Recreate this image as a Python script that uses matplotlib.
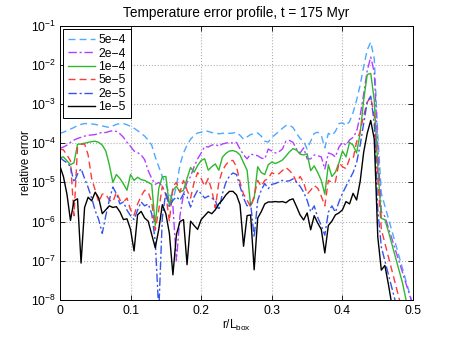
import numpy as np
import matplotlib
matplotlib.use("Agg")
import matplotlib.pyplot as plt
from matplotlib.ticker import NullLocator, FixedLocator

plt.rcParams['font.family'] = ['Liberation Sans', 'DejaVu Sans']
plt.rcParams['mathtext.default'] = 'regular'

# radial coordinate r/L_box (grid of 0.005)
r = [round(0.005 * i, 3) for i in range(101)]

# log10(relative error), per tolerance
err_5e4 = [-3.75, -3.72, -3.68, -3.64, -3.60, -3.55, -3.52, -3.50, -3.50, -3.51,
           -3.52, -3.54, -3.56, -3.58, -3.60, -3.56, -3.52, -3.50, -3.50, -3.53,
           -3.57, -3.62, -3.68, -3.75, -3.82, -3.92, -4.05, -4.35, -4.60, -4.85,
           -5.05, -5.30, -5.45, -5.10, -4.55, -4.25, -4.05, -3.90, -3.80, -3.74,
           -3.72, -3.68, -3.70, -3.73, -3.74, -3.76, -3.75, -3.74, -3.75, -3.74,
           -3.72, -3.80, -3.90, -3.84, -3.78, -3.76, -3.74, -3.82, -3.95, -3.97,
           -3.85, -3.78, -3.70, -3.62, -3.55, -3.54, -3.60, -3.75, -3.88, -3.95,
           -4.15, -3.95, -3.75, -3.72, -3.80, -4.12, -3.75, -3.80, -3.70, -3.50,
           -3.48, -3.55, -3.45, -3.22, -2.90, -2.52, -2.05, -1.62, -1.42, -1.85,
           -3.80, -5.28, -5.60, -5.92, -6.24, -6.56, -6.88, -7.20, -7.52, -7.84,
           -8.16]

err_2e4 = [-4.13, -4.10, -4.05, -3.98, -3.92, -3.88, -3.85, -3.82, -3.80, -3.79,
           -3.78, -3.75, -3.72, -3.73, -3.70, -3.68, -3.70, -3.76, -3.85, -3.98,
           -4.08, -4.20, -4.24, -4.30, -4.42, -4.70, -4.90, -5.05, -5.00, -5.10,
           -5.30, -5.45, -5.60, -7.00, -5.85, -5.30, -5.00, -4.85, -4.60, -4.40,
           -4.25, -4.08, -4.10, -4.05, -4.03, -4.08, -4.02, -4.00, -3.98, -4.00,
           -3.98, -4.15, -4.30, -4.40, -4.28, -4.30, -4.32, -4.38, -4.40, -4.15,
           -4.20, -4.25, -4.22, -4.15, -3.95, -3.93, -3.98, -4.15, -4.25, -4.12,
           -4.40, -4.40, -4.30, -4.32, -4.35, -4.66, -4.25, -4.28, -4.35, -4.10,
           -3.98, -4.05, -3.92, -3.85, -3.70, -3.30, -2.75, -2.15, -1.80, -2.20,
           -4.10, -5.75, -5.87, -6.16, -6.44, -6.73, -7.01, -7.30, -7.59, -7.87,
           -8.16]

err_1e4 = [-4.37, -4.35, -4.45, -4.55, -4.50, -4.03, -4.02, -4.00, -3.98, -3.96,
           -3.95, -3.98, -4.05, -4.20, -4.55, -5.00, -4.80, -4.90, -5.04, -5.20,
           -4.80, -4.95, -4.87, -4.93, -4.95, -5.00, -5.05, -6.10, -5.15, -4.86,
           -4.85, -5.60, -5.20, -5.10, -5.25, -5.20, -4.90, -4.62, -4.74, -4.57,
           -4.44, -4.40, -4.69, -4.60, -4.53, -4.69, -4.36, -4.26, -4.20, -4.19,
           -4.22, -4.30, -4.50, -4.69, -5.60, -5.40, -4.60, -4.75, -4.80, -4.55,
           -4.48, -4.52, -4.48, -4.43, -4.33, -4.22, -4.14, -4.18, -4.28, -4.30,
           -4.27, -4.70, -4.58, -4.75, -4.95, -5.30, -4.55, -4.85, -4.74, -4.50,
           -4.20, -4.35, -3.98, -4.05, -4.25, -3.75, -2.90, -2.25, -2.22, -2.90,
           -4.60, -5.92, -5.95, -6.25, -6.58, -6.91, -7.24, -7.57, -8.00, -8.30,
           -8.60]

err_5e5 = [-4.15, -4.17, -4.30, -4.45, -5.85, -4.10, -4.03, -4.02, -4.30, -4.90,
           -5.20, -5.50, -5.30, -5.30, -5.45, -5.50, -5.25, -5.45, -5.50, -5.40,
           -5.70, -5.84, -5.55, -5.35, -5.20, -5.25, -5.50, -6.22, -5.70, -5.10,
           -5.30, -6.00, -5.10, -5.00, -5.25, -4.95, -5.20, -5.40, -5.00, -4.75,
           -4.90, -5.10, -4.90, -5.20, -5.65, -5.00, -4.70, -4.55, -4.45, -4.44,
           -4.60, -5.00, -5.30, -5.45, -5.63, -5.35, -4.95, -5.10, -4.95, -4.90,
           -4.75, -4.80, -4.78, -4.70, -4.62, -4.70, -4.80, -5.00, -4.85, -5.00,
           -5.30, -5.20, -5.08, -5.15, -5.35, -5.60, -4.95, -5.00, -4.99, -4.50,
           -4.60, -4.65, -4.40, -4.40, -3.97, -3.70, -3.30, -2.95, -2.83, -3.30,
           -4.90, -6.20, -6.55, -6.90, -7.25, -7.60, -7.95, -8.30, -8.65, -9.00,
           -9.35]

err_2e5 = [-4.36, -4.44, -4.50, -4.60, -5.00, -4.79, -4.65, -4.90, -5.13, -5.40,
           -5.72, -5.95, -6.30, -5.85, -5.45, -5.12, -5.29, -5.55, -5.50, -5.71,
           -5.85, -5.95, -5.71, -5.50, -5.60, -5.55, -5.80, -6.50, -8.30, -5.90,
           -5.25, -5.63, -5.46, -5.37, -5.46, -5.29, -5.37, -5.63, -5.37, -5.20,
           -5.29, -5.40, -5.35, -5.40, -5.46, -5.71, -5.29, -5.00, -4.84, -4.76,
           -4.80, -5.10, -5.40, -5.60, -5.54, -6.40, -5.46, -5.20, -5.03, -5.16,
           -5.05, -5.03, -4.99, -4.95, -4.97, -4.96, -4.91, -5.00, -5.10, -5.25,
           -5.46, -5.75, -5.60, -5.90, -6.10, -6.35, -5.76, -5.60, -5.76, -5.50,
           -5.28, -5.10, -4.92, -4.75, -4.50, -4.05, -3.50, -2.95, -2.80, -3.50,
           -5.70, -6.65, -7.00, -7.35, -7.70, -8.05, -8.40, -8.75, -9.10, -9.45,
           -9.80]

err_1e5 = [-4.58, -4.85, -5.30, -5.97, -5.47, -5.42, -7.06, -5.64, -5.38, -5.47,
           -5.25, -5.40, -5.80, -5.70, -5.60, -5.64, -5.62, -5.75, -5.95, -5.93,
           -6.20, -6.75, -5.83, -5.74, -5.91, -5.99, -6.33, -6.67, -6.20, -5.57,
           -5.80, -6.30, -7.36, -6.33, -6.00, -5.95, -7.10, -5.99, -6.10, -6.20,
           -5.95, -5.85, -5.75, -5.80, -5.70, -5.55, -5.45, -5.32, -5.23, -5.23,
           -5.32, -5.57, -6.63, -5.85, -5.83, -7.23, -5.91, -5.75, -5.55, -5.50,
           -5.50, -5.49, -5.50, -5.49, -5.52, -5.45, -5.42, -5.62, -5.83, -5.96,
           -5.78, -6.21, -5.85, -6.04, -6.20, -6.80, -6.10, -5.99, -5.83, -5.78,
           -5.70, -5.49, -5.55, -5.28, -5.45, -4.98, -4.23, -3.75, -3.42, -3.90,
           -6.40, -7.24, -7.12, -7.60, -8.14, -8.70, -9.20, -9.70, -10.2, -10.7,
           -11.2]

labels = ['5e\u22124', '2e\u22124', '1e\u22124', '5e\u22125', '2e\u22125', '1e\u22125']
series = [err_5e4, err_2e4, err_1e4, err_5e5, err_2e5, err_1e5]
colors = ['#4da9ff', '#b040ff', '#2eb82e', '#ff3a3a', '#3355ee', '#000000']
styles = [(0, (5, 3)), (0, (6, 2, 1.5, 2)), '-', (0, (5, 3)), (0, (6, 2, 1.5, 2)), '-']

fig = plt.figure(figsize=(4.57, 3.37), dpi=100)
ax = fig.add_axes([0.131, 0.110, 0.773, 0.814])

x = np.array(r)
for vals, lab, c, ls in zip(series, labels, colors, styles):
    ax.plot(x, 10.0 ** np.array(vals), color=c, linestyle=ls, linewidth=1.0, label=lab)

ax.set_yscale('log')
ax.set_xlim(0, 0.5)
ax.set_ylim(1e-8, 1e-1)
ax.set_xticks([0, 0.1, 0.2, 0.3, 0.4, 0.5])
ax.set_xticklabels(['0', '0.1', '0.2', '0.3', '0.4', '0.5'])
ax.yaxis.set_major_locator(FixedLocator([10.0 ** k for k in range(-8, 0)]))
ax.yaxis.set_minor_locator(NullLocator())
ax.tick_params(which='both', direction='in', top=True, right=True, labelsize=8.8, length=3.5, width=0.6)
ax.tick_params(axis='y', pad=2.5)
ax.grid(True, which='major', linestyle=':', color='#b0b0b0', linewidth=0.8)
for s in ax.spines.values():
    s.set_linewidth(0.7)

ax.set_title('Temperature error profile, t = 175 Myr', fontsize=9.8, pad=6)
ax.set_xlabel('r/L$_{box}$', fontsize=8.5, labelpad=1)
ax.set_ylabel('relative error', fontsize=8.3, labelpad=-1)

leg = ax.legend(loc='upper left', fontsize=8.7, handlelength=2.2, handletextpad=0.3,
                borderpad=0.4, labelspacing=0.12, borderaxespad=0.3, fancybox=False,
                framealpha=1, edgecolor='black')
leg.get_frame().set_linewidth(0.7)

fig.savefig('out.png', dpi=100)
